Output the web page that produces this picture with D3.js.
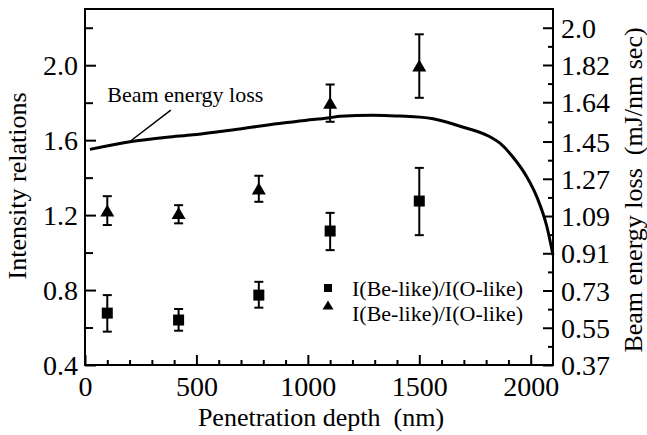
<!DOCTYPE html>
<html><head><meta charset="utf-8">
<script src="https://cdn.jsdelivr.net/npm/d3@7"></script>
<style>body{margin:0;background:#fff}svg text{font-family:"Liberation Serif","Times New Roman",serif;fill:#000}</style></head>
<body><svg id="c" width="647" height="435"></svg>
<script>
// ---- data ----
const depths = [100, 420, 780, 1100, 1500];
const squareVals = [0.677, 0.640, 0.773, 1.115, 1.275];
const squareLo = [0.578, 0.583, 0.706, 1.013, 1.093];
const squareHi = [0.773, 0.699, 0.844, 1.212, 1.452];
const triVals = [1.225, 1.211, 1.342, 1.800, 1.998];
const triLo = [1.147, 1.156, 1.271, 1.698, 1.826];
const triHi = [1.301, 1.253, 1.410, 1.897, 2.165];
const curveDepth = [22, 202, 368, 485, 606, 695, 754, 906, 1023, 1099, 1144, 1292, 1369, 1413, 1503, 1562, 1683, 1817, 1862, 1920, 1983, 2028, 2073, 2100];
const curveLoss = [1.412, 1.449, 1.471, 1.483, 1.499, 1.511, 1.520, 1.542, 1.556, 1.565, 1.572, 1.577, 1.575, 1.573, 1.568, 1.560, 1.524, 1.473, 1.442, 1.375, 1.278, 1.181, 1.037, 0.901];
const xTickLabels = [0, 500, 1000, 1500, 2000];
const leftTickLabels = [0.4, 0.8, 1.2, 1.6, 2.0];
const rightTickLabels = ["0.37", "0.55", "0.73", "0.91", "1.09", "1.27", "1.45", "1.64", "1.82", "2.0"];
const legendLabels = ["I(Be-like)/I(O-like)", "I(Be-like)/I(O-like)"];

// ---- layout ----
const svg = d3.select("#c");
const L = 85, R = 553, T = 9, B = 365;
const x = d3.scaleLinear().domain([0, 2100]).range([L, R]);
const yL = d3.scaleLinear().domain([0.4, 2.3]).range([B, T]);
const yR = d3.scaleLinear().domain([0.37, 2.0]).range([B, yL(2.2)]);
const rightVals = rightTickLabels.map(Number);

const g = svg.append("g");

// frame
g.append("rect").attr("x", L).attr("y", T).attr("width", R - L).attr("height", B - T)
  .attr("fill", "none").attr("stroke", "#000").attr("stroke-width", 2);

function styleAxis(sel, fs) {
  sel.select(".domain").remove();
  sel.selectAll(".tick line").attr("stroke", "#000").attr("stroke-width", 2);
  sel.selectAll(".tick text").attr("font-size", fs).attr("font-family", "Liberation Serif").attr("fill", "#000");
}
// x axis ticks (inward)
const xMinor = d3.range(100, 2100, 100).filter(v => v % 500 !== 0);
g.append("g").attr("transform", `translate(0,${B})`)
  .call(d3.axisBottom(x).tickValues(xMinor).tickSize(-5).tickFormat("")).call(s => styleAxis(s, 28));
g.append("g").attr("transform", `translate(0,${B})`)
  .call(d3.axisBottom(x).tickValues(xTickLabels).tickSize(-10).tickFormat(d3.format("d")))
  .call(s => { styleAxis(s, 28); s.selectAll(".tick text").attr("dy", "0.71em").attr("y", 11); });

// left axis
const leftMinor = d3.range(0.6, 2.3, 0.4).map(v => +v.toFixed(2));
g.append("g").attr("transform", `translate(${L},0)`)
  .call(d3.axisLeft(yL).tickValues(leftMinor).tickSize(-8).tickFormat("")).call(s => styleAxis(s, 28));
g.append("g").attr("transform", `translate(${L},0)`)
  .call(d3.axisLeft(yL).tickValues(leftTickLabels).tickSize(-11).tickFormat(d3.format(".1f")))
  .call(s => { styleAxis(s, 28); s.selectAll(".tick text").attr("x", -7).attr("dy", "0.34em"); });

// right axis
const rightMinor = rightVals.slice(0, -1).map((v, i) => (v + rightVals[i + 1]) / 2);
g.append("g").attr("transform", `translate(${R},0)`)
  .call(d3.axisRight(yR).tickValues(rightMinor).tickSize(-5).tickFormat("")).call(s => styleAxis(s, 28));
g.append("g").attr("transform", `translate(${R},0)`)
  .call(d3.axisRight(yR).tickValues(rightVals).tickSize(-10).tickFormat((d, i) => rightTickLabels[i]))
  .call(s => { styleAxis(s, 28); s.selectAll(".tick text").attr("x", 8).attr("dy", "0.34em"); });

// axis titles
g.append("text").attr("x", (L + R) / 2 + 2).attr("y", 426).attr("text-anchor", "middle")
  .attr("font-size", 26).style("white-space", "pre").text("Penetration depth  (nm)");
g.append("text").attr("transform", `translate(26,${186}) rotate(-90)`).attr("text-anchor", "middle")
  .attr("font-size", 26).text("Intensity relations");
g.append("text").attr("transform", `translate(642,${190}) rotate(-90)`).attr("text-anchor", "middle")
  .attr("font-size", 26).style("white-space", "pre").text("Beam energy loss  (mJ/nm sec)");

// curve
const curveData = curveDepth.map((d, i) => [d, curveLoss[i]]);
g.append("path").datum(curveData)
  .attr("d", d3.line().x(d => x(d[0])).y(d => yR(d[1])).curve(d3.curveMonotoneX))
  .attr("fill", "none").attr("stroke", "#000").attr("stroke-width", 3);

// annotation
g.append("line").attr("x1", x(200)).attr("y1", yR(1.449)).attr("x2", x(385)).attr("y2", yL(1.76))
  .attr("stroke", "#000").attr("stroke-width", 1.5);
g.append("text").attr("x", x(100)).attr("y", yL(1.805)).attr("font-size", 22).text("Beam energy loss");

// error bars
function errorBars(lo, hi) {
  const eg = g.append("g").attr("stroke", "#000").attr("stroke-width", 2);
  depths.forEach((d, i) => {
    const cx = x(d);
    eg.append("line").attr("x1", cx).attr("x2", cx).attr("y1", yL(lo[i])).attr("y2", yL(hi[i]));
    [lo[i], hi[i]].forEach(v => eg.append("line").attr("x1", cx - 4.5).attr("x2", cx + 4.5).attr("y1", yL(v)).attr("y2", yL(v)));
  });
}
errorBars(squareLo, squareHi);
errorBars(triLo, triHi);

function triPath(cx, cy, w, h) {
  return `M${cx},${cy - h / 2}L${cx + w / 2},${cy + h / 2}L${cx - w / 2},${cy + h / 2}Z`;
}
// squares
g.selectAll(".sq").data(depths).enter().append("rect")
  .attr("x", d => x(d) - 5.5).attr("y", (d, i) => yL(squareVals[i]) - 5.5)
  .attr("width", 11).attr("height", 11).attr("fill", "#000");
// triangles
g.selectAll(".tr").data(depths).enter().append("path")
  .attr("d", (d, i) => triPath(x(d), yL(triVals[i]), 14, 12)).attr("fill", "#000");

// legend
const lg = g.append("g");
lg.append("rect").attr("x", 324).attr("y", 284).attr("width", 8).attr("height", 8).attr("fill", "#000");
lg.append("path").attr("d", triPath(328, 305, 11, 9)).attr("fill", "#000");
lg.append("text").attr("x", 352).attr("y", 296).attr("font-size", 22).text(legendLabels[0]);
lg.append("text").attr("x", 352).attr("y", 320.5).attr("font-size", 22).text(legendLabels[1]);
</script></body></html>
